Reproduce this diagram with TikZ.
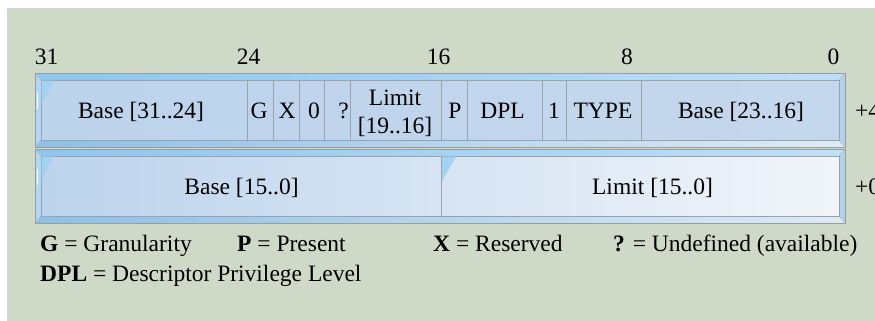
\documentclass[tikz,border=0pt]{standalone}
\usepackage{fontspec}
\setmainfont{Liberation Serif}
\definecolor{bg}{HTML}{CFD9C8}
\definecolor{frame}{HTML}{9A9C9E}
\definecolor{divc}{HTML}{9AA2AC}
\definecolor{bevTopL}{HTML}{8EC6EE}
\definecolor{bevTopR}{HTML}{BFE0F7}
\definecolor{bevBotL}{HTML}{8CC0E9}
\definecolor{bevBotR}{HTML}{DDEBF6}
\definecolor{bevLeft}{HTML}{B0D7F3}
\definecolor{bevRight}{HTML}{B2D2EC}
\definecolor{faceBlue}{HTML}{BCD3EC}
\definecolor{faceWhite}{HTML}{F1F5FA}
\definecolor{faceBlueR}{HTML}{C5D7EC}
\definecolor{hilite}{HTML}{A3D2F3}
\newcommand\mkrow[5]{%
  % #1 outer top, #2 outer bottom, #3 face left, #4 face middle, #5 face right
  \shade[left color=bevTopL, right color=bevTopR] (35,#1) -- (845,#1) -- (839,{#1+7}) -- (41,{#1+7}) -- cycle;
  \shade[left color=bevBotL, right color=bevBotR] (35,#2) -- (845,#2) -- (839,{#2-7}) -- (41,{#2-7}) -- cycle;
  \fill[bevLeft] (35,#1) -- (41,{#1+7}) -- (41,{#2-7}) -- (35,#2) -- cycle;
  \fill[bevRight] (845,#1) -- (839,{#1+7}) -- (839,{#2-7}) -- (845,#2) -- cycle;
  \draw[white, line width=1.2pt] (37.5,{#1+20}) -- (37.5,{#1+36});
  \shade[left color=#3, middle color=#4, right color=#5] (41,{#1+7}) rectangle (839,{#2-7});
  \draw[frame!70, line width=0.5pt] (35,#1) -- (41,{#1+7}) (845,#1) -- (839,{#1+7})
        (35,#2) -- (41,{#2-7}) (845,#2) -- (839,{#2-7});
  \draw[divc, line width=0.8pt] (41,{#1+7}) rectangle (839,{#2-7});
  \draw[frame, line width=1pt] (35,#1) rectangle (845,#2);
}
\begin{document}
\begin{tikzpicture}[x=1pt,y=-1pt,
  txt/.style={font=\fontsize{23.5}{28}\selectfont, inner sep=0pt, text=black, anchor=base},
  ltxt/.style={font=\fontsize{23.5}{28}\selectfont, inner sep=0pt, text=black, anchor=base west},
  divline/.style={divc, line width=0.8pt}]
\useasboundingbox (0,0) rectangle (875,321);
\fill[white] (0,0) rectangle (875,321);
\fill[bg] (7,8) rectangle (875,321);

% bit numbers
\node[txt] (b31) at (46.5,64) {31};
\node[txt] (b24) at (248.5,64) {24};
\node[txt] (b16) at (438.5,64) {16};
\node[txt] (b8)  at (627,64) {8};
\node[txt] (b0)  at (833.5,64) {0};

% rows
\mkrow{73}{147}{faceBlue}{faceWhite}{faceBlueR}
\mkrow{149}{223}{faceBlue}{faceWhite!80!faceBlue}{faceWhite}

% highlight triangles
\fill[hilite] (41.5,80.5) -- (54,80.5) -- (41.5,104) -- cycle;
\fill[hilite] (41.5,156.5) -- (54,156.5) -- (41.5,180) -- cycle;
\fill[hilite] (441.5,156.5) -- (456,156.5) -- (441.5,182) -- cycle;

% dividers
\foreach \x in {247,273,299,324,350,441,467,542,566,641}
  \draw[divline] (\x,80) -- (\x,140);
\draw[divline] (441,156) -- (441,216);

% row 1 texts
\node[txt] (base3124) at (141,118.3) {Base [31..24]};
\node[txt] (g) at (259,118.3) {G};
\node[txt] (x) at (287,118.3) {X};
\node[txt] (zero) at (314,118.3) {0};
\node[txt] (q) at (343.5,118.3) {?};
\node[txt] (lim1) at (395,105) {Limit};
\node[txt] (lim2) at (395,133.3) {[19..16]};
\node[txt] (p) at (455,118.3) {P};
\node[txt] (dpl) at (502.5,118.3) {DPL};
\node[txt] (one) at (554,118.3) {1};
\node[txt] (type) at (603,118.3) {TYPE};
\node[txt] (base2316) at (741,118.3) {Base [23..16]};
\node[ltxt] (off4) at (855,118.3) {+4};

% row 2 texts
\node[txt] (base150) at (241.5,194) {Base [15..0]};
\node[txt] (lim150) at (652.5,194) {Limit [15..0]};
\node[ltxt] (off0) at (855,194) {+0};

% legend
\node[ltxt] (lg) at (40,251) {\textbf{G} = Granularity};
\node[ltxt] (lp) at (237,251) {\textbf{P} = Present};
\node[ltxt] (lx) at (433,251) {\textbf{X} = Reserved};
\node[ltxt] (lq) at (613,251) {\textbf{?} = Undefined (available)};
\node[ltxt] (ldpl) at (40,281.5) {\textbf{DPL} = Descriptor Privilege Level};
\end{tikzpicture}
\end{document}
